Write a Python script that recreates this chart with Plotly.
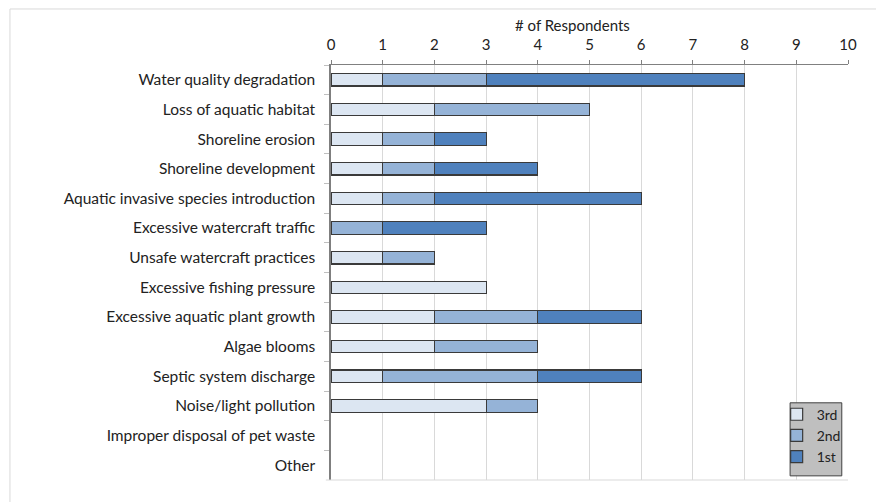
import plotly.graph_objects as go

categories = [
    "Water quality degradation",
    "Loss of aquatic habitat",
    "Shoreline erosion",
    "Shoreline development",
    "Aquatic invasive species introduction",
    "Excessive watercraft traffic",
    "Unsafe watercraft practices",
    "Excessive fishing pressure",
    "Excessive aquatic plant growth",
    "Algae blooms",
    "Septic system discharge",
    "Noise/light pollution",
    "Improper disposal of pet waste",
    "Other",
]
third = [1, 2, 1, 1, 1, 0, 1, 3, 2, 2, 1, 3, 0, 0]
second = [2, 3, 1, 1, 1, 1, 1, 0, 2, 2, 3, 1, 0, 0]
first = [5, 0, 1, 2, 4, 2, 0, 0, 2, 0, 2, 0, 0, 0]

series = [("3rd", third, "#DCE6F2"), ("2nd", second, "#95B3D7"), ("1st", first, "#4F81BD")]

fig = go.Figure()
for name, vals, color in series:
    # zero counts are simply not drawn
    xs = [v if v else None for v in vals]
    fig.add_trace(go.Bar(
        y=categories, x=xs, name=name, orientation="h",
        marker=dict(color=color, line=dict(color="#3a3a3a", width=1.2)),
    ))

font = "Lato, 'Open Sans', sans-serif"
fig.update_layout(
    barmode="stack",
    bargap=0.58,
    width=884, height=502,
    margin=dict(l=323, r=44, t=57, b=30),
    paper_bgcolor="white",
    plot_bgcolor="white",
    font=dict(family=font, size=15.5, color="#222222"),
    showlegend=True,
    legend=dict(
        x=0.862, y=0.196, xanchor="left", yanchor="top",
        bgcolor="rgba(0,0,0,0)", borderwidth=0,
        traceorder="normal", font=dict(size=14, color="#222222"),
        itemwidth=30, tracegroupgap=0,
    ),
    xaxis=dict(
        side="top", range=[0, 10], dtick=1, tick0=0,
        showgrid=True, gridcolor="#D9D9D9", gridwidth=1,
        showline=True, linecolor="#808080", linewidth=1,
        ticks="outside", ticklen=4, tickcolor="#808080",
        ticklabelstandoff=4, tickfont=dict(size=15),
        zeroline=False,
    ),
    yaxis=dict(
        autorange="reversed",
        showline=True, linecolor="#7f7f7f", linewidth=1.5,
        ticks="outside", ticklen=5, tickcolor="#BFBFBF",
        tickson="boundaries", showgrid=False,
        ticklabelstandoff=11,
    ),
    annotations=[
        dict(text="# of Respondents", xref="paper", yref="paper", x=0.468, y=1.096,
             xanchor="center", yanchor="middle", showarrow=False,
             font=dict(size=15)),
    ],
    shapes=[
        dict(type="rect", xref="paper", yref="paper",
             x0=-0.621, x1=1.3, y0=1.135, y1=-0.3,
             line=dict(color="#D9D9D9", width=1), fillcolor="rgba(0,0,0,0)", layer="below"),
        dict(type="line", xref="paper", yref="paper",
             x0=-0.01, x1=1, y0=0, y1=0,
             line=dict(color="#D9D9D9", width=1)),
        # legend box
        dict(type="rect", xref="paper", yref="paper",
             x0=0.888, x1=0.988, y0=0.186, y1=0.01,
             line=dict(color="#404040", width=1), fillcolor="#BFBFBF", layer="above"),
    ],
)

fig.write_html("out.html")
